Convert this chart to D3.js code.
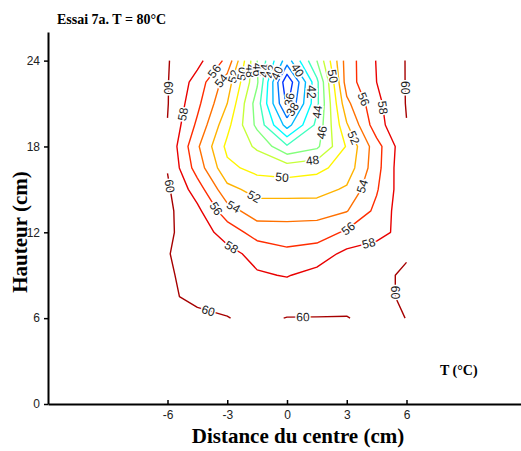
<!DOCTYPE html>
<html>
<head>
<meta charset="utf-8">
<script src="https://cdn.jsdelivr.net/npm/d3@7"></script>
<style>
  body { margin: 0; background: #fff; }
  svg { display: block; }
</style>
</head>
<body>
<svg id="chart" width="521" height="451"></svg>
<script>
// Measurement grid: distance from centre (cm) and height (cm)
const xCols = [-6, -4.5, -3, -1.5, 0, 1.5, 3, 4.5, 6];
const yRows = [24, 22.5, 21, 19.5, 18, 16.5, 15, 13.5, 12, 10.5, 9, 7.5, 6];

// Temperature (°C) at each grid node, one row per height (top to bottom)
const temp24   = [60.1, 58.6, 55.5, 46.0, 39.0, 46.0, 55.0, 58.1, 60.1];
const temp22_5 = [60.1, 57.2, 53.0, 46.3, 34.3, 43.5, 55.0, 58.0, 60.1];
const temp21   = [60.1, 56.5, 52.0, 45.0, 35.6, 43.5, 53.5, 57.5, 60.1];
const temp19_5 = [59.95, 55.6, 50.6, 45.5, 39.2, 44.5, 51.8, 57.2, 59.95];
const temp18   = [59.7, 54.3, 49.5, 47.7, 44.3, 45.6, 50.2, 55.2, 59.7];
const temp16_5 = [59.9, 55.1, 50.5, 49.35, 49.0, 49.5, 50.8, 55.3, 59.95];
const temp15   = [60.3, 57.0, 52.6, 51.3, 51.2, 51.2, 52.3, 55.8, 59.6];
const temp13_5 = [60.4, 58.5, 54.8, 53.0, 53.1, 53.2, 53.9, 56.5, 59.5];
const temp12   = [60.3, 59.0, 57.2, 55.1, 54.9, 55.0, 56.3, 57.3, 58.8];
const temp10_5 = [60.05, 59.5, 58.6, 57.4, 56.5, 57.0, 58.5, 59.0, 59.8];
const temp9    = [60.1, 59.7, 59.3, 58.2, 57.9, 58.6, 59.4, 59.5, 60.3];
const temp7_5  = [60.2, 59.7, 59.5, 59.2, 59.0, 59.2, 59.5, 59.5, 60.3];
const temp6    = [60.5, 60.3, 60.05, 59.6, 60.05, 60.05, 60.05, 59.6, 60.02];
const tempGrid = [temp24, temp22_5, temp21, temp19_5, temp18, temp16_5, temp15,
                  temp13_5, temp12, temp10_5, temp9, temp7_5, temp6];

// Isotherm levels
const levels = [36, 38, 40, 42, 44, 46, 48, 50, 52, 54, 56, 58, 60];

// Axis ticks
const xTicks = [-6, -3, 0, 3, 6];
const yTicks = [0, 6, 12, 18, 24];

// Where each isotherm carries its value label (level, approx. x cm, y cm)
const labelLevel = [60, 60, 58, 56, 54, 52, 50, 48, 46, 44, 42, 40, 40, 36, 38, 42, 44, 46, 48,
                    50, 50, 52, 52, 54, 54, 56, 56, 56, 58, 58, 58, 60, 60, 60, 60];
const labelX = [-6.0, 5.9, -5.4, -3.5, -3.05, -2.7, -2.35, -2.05, -1.75, -1.45, -1.2, -0.85, 0.5, 0.25, 0.5, 1.3, 1.6, 1.65, 1.25,
                2.05, -0.25, -1.75, 3.8, -2.85, 4.05, 4.0, -3.85, 3.05, 5.0, -2.95, 4.15, -4.0, 0.8, 5.3, -6.0];
const labelY = [22.1, 22.1, 20.3, 23.1, 22.3, 22.9, 23.1, 23.3, 23.35, 23.35, 23.4, 23.35, 23.3, 21.25, 20.4, 21.8, 20.4, 19.0, 17.4,
                22.85, 15.85, 14.25, 18.9, 13.4, 15.1, 21.4, 13.4, 12.3, 20.75, 10.6, 10.95, 6.3, 5.9, 7.8, 15.2];

// ---------------------------------------------------------------------------
const svg = d3.select('#chart');
const x = d3.scaleLinear().domain([-12, 12]).range([48, 526]);
const y = d3.scaleLinear().domain([0, 26]).range([404, 32]);

// jet colour map
function jet(t) {
  const c = v => Math.max(0, Math.min(1, v));
  const r = c(Math.min(4 * t - 1.5, -4 * t + 4.5));
  const g = c(Math.min(4 * t - 0.5, -4 * t + 3.5));
  const b = c(Math.min(4 * t + 0.5, -4 * t + 2.5));
  return d3.rgb(r * 255, g * 255, b * 255).formatHex();
}
const colorPos = d3.scaleLinear().domain([36, 60]).range([0.175, 0.9625]);
const levelColor = v => jet(colorPos(v));

// contour computation on the grid
const nx = xCols.length, ny = yRows.length;
const values = tempGrid.flat();
const gxToX = d3.scaleLinear().domain([0.5, nx - 0.5]).range([xCols[0], xCols[nx - 1]]);
const gyToY = d3.scaleLinear().domain([0.5, ny - 0.5]).range([yRows[0], yRows[ny - 1]]);
const contours = d3.contours().size([nx, ny]).thresholds(levels)(values);

const onEdge = p => p[0] <= 0 || p[0] >= nx || p[1] <= 0 || p[1] >= ny;

// turn a closed ring into open isolines (drop the parts running along the grid border)
function openLines(ring) {
  let pts = ring.slice();
  const f = pts[0], l = pts[pts.length - 1];
  if (f[0] === l[0] && f[1] === l[1]) pts.pop();
  const k = pts.findIndex(onEdge);
  if (k < 0) return [pts.concat([pts[0]])];
  pts = pts.slice(k).concat(pts.slice(0, k));
  const out = [];
  let cur = [];
  for (const p of pts) {
    if (onEdge(p)) { if (cur.length > 1) out.push(cur); cur = []; }
    else cur.push(p);
  }
  if (cur.length > 1) out.push(cur);
  return out;
}

const linesByLevel = new Map();
contours.forEach(c => {
  const lines = [];
  c.coordinates.forEach(poly => poly.forEach(ring => {
    openLines(ring).forEach(line => {
      lines.push(line.map(p => [x(gxToX(p[0])), y(gyToY(p[1]))]));
    });
  }));
  linesByLevel.set(c.value, lines);
});

const lineGen = d3.line();
const gLines = svg.append('g').attr('fill', 'none').attr('stroke-width', 1.4)
  .attr('stroke-linejoin', 'round');
levels.forEach(v => {
  (linesByLevel.get(v) || []).forEach(line => {
    gLines.append('path').attr('d', lineGen(line)).attr('stroke', levelColor(v));
  });
});

// contour labels: snap to the nearest point of the isoline and follow its direction
function nearestOnLines(lines, px, py) {
  let best = null;
  lines.forEach(line => {
    for (let i = 0; i < line.length - 1; i++) {
      const [ax, ay] = line[i], [bx, by] = line[i + 1];
      const dx = bx - ax, dy = by - ay;
      const len2 = dx * dx + dy * dy || 1e-9;
      let t = ((px - ax) * dx + (py - ay) * dy) / len2;
      t = Math.max(0, Math.min(1, t));
      const qx = ax + t * dx, qy = ay + t * dy;
      const d = (qx - px) ** 2 + (qy - py) ** 2;
      if (!best || d < best.d) best = { d, x: qx, y: qy, ang: Math.atan2(dy, dx) * 180 / Math.PI };
    }
  });
  return best;
}

const gLabels = svg.append('g')
  .attr('font-family', '"Liberation Sans", Arial, sans-serif')
  .attr('font-size', 12).attr('text-anchor', 'middle');
labelLevel.forEach((v, i) => {
  const hit = nearestOnLines(linesByLevel.get(v) || [], x(labelX[i]), y(labelY[i]));
  if (!hit) return;
  let a = hit.ang;
  if (a > 90) a -= 180;
  if (a <= -90) a += 180;
  if (Math.abs(a) > 86) a = 90;   // upright isolines: text reads downward
  gLabels.append('text')
    .attr('transform', `translate(${hit.x},${hit.y}) rotate(${a})`)
    .attr('dy', '0.35em')
    .attr('stroke', '#fff').attr('stroke-width', 3).attr('paint-order', 'stroke')
    .attr('fill', '#222')
    .text(v);
});

// axes
const gx = svg.append('g').attr('transform', 'translate(0,404)')
  .call(d3.axisBottom(x).tickValues(xTicks).tickSizeInner(-4).tickSizeOuter(0)
    .tickPadding(6).tickFormat(d => String(d)));
const gy = svg.append('g').attr('transform', 'translate(48,0)')
  .call(d3.axisLeft(y).tickValues(yTicks).tickSizeInner(4).tickSizeOuter(0)
    .tickPadding(4).tickFormat(d => String(d)));
[gx, gy].forEach(g => {
  g.attr('font-family', '"Liberation Sans", Arial, sans-serif').attr('font-size', 12);
  g.select('.domain').attr('stroke', '#000').attr('stroke-width', 2);
  g.selectAll('.tick line').attr('stroke', '#000').attr('stroke-width', 1.5);
  g.selectAll('.tick text').attr('fill', '#222');
});

// titles
const serif = '"Liberation Serif", "Times New Roman", serif';
svg.append('text').attr('x', 57).attr('y', 24)
  .attr('font-family', serif).attr('font-weight', 'bold').attr('font-size', 14)
  .text('Essai 7a. T = 80°C');
svg.append('text').attr('x', 298).attr('y', 443).attr('text-anchor', 'middle')
  .attr('font-family', serif).attr('font-weight', 'bold').attr('font-size', 21)
  .text('Distance du centre (cm)');
svg.append('text').attr('transform', 'translate(27,232) rotate(-90)').attr('text-anchor', 'middle')
  .attr('font-family', serif).attr('font-weight', 'bold').attr('font-size', 21)
  .text('Hauteur (cm)');
svg.append('text').attr('x', 440).attr('y', 375)
  .attr('font-family', serif).attr('font-weight', 'bold').attr('font-size', 14)
  .text('T (°C)');
</script>
</body>
</html>
